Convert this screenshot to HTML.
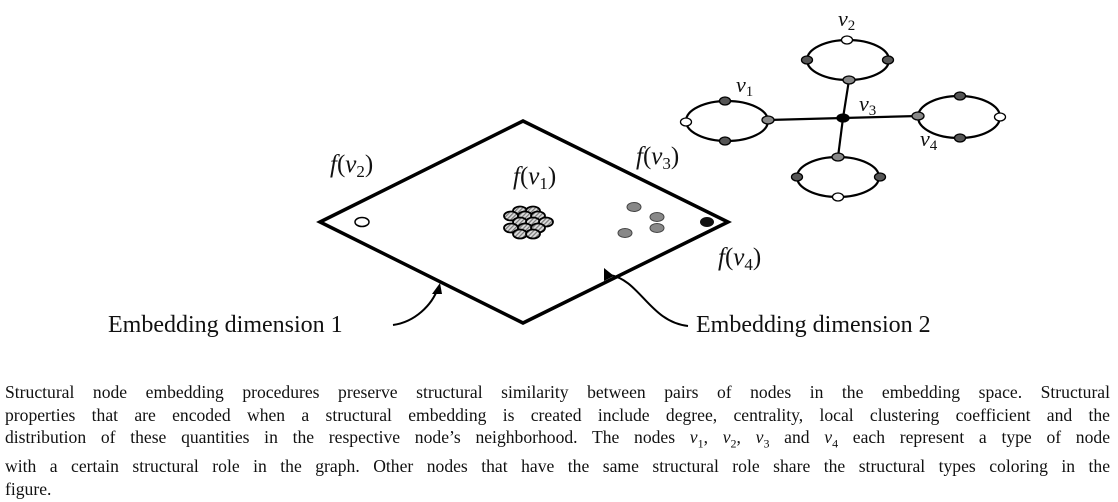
<!DOCTYPE html>
<html><head><meta charset="utf-8"><style>
html,body{margin:0;padding:0;background:#fff;}
body{width:1118px;height:502px;position:relative;overflow:hidden;font-family:"Liberation Serif",serif;}
svg{position:absolute;left:0;top:0;}
.cap{position:absolute;left:5px;width:1105px;font-size:17.6px;line-height:22.5px;top:381px;color:#111;}
.cap div{text-align:justify;text-align-last:justify;white-space:nowrap;}
.cap div.l{text-align-last:left;}
</style></head><body>
<svg width="1118" height="380" viewBox="0 0 1118 380">
<defs><pattern id="h" width="3" height="3" patternUnits="userSpaceOnUse" patternTransform="rotate(45)"><rect width="3" height="3" fill="#ddd"/><rect width="1.2" height="3" fill="#777"/></pattern></defs>
<polygon points="320,222 523,121 728,222 523,323" fill="none" stroke="#000" stroke-width="3.5" stroke-linejoin="miter"/>
<ellipse cx="362" cy="222" rx="7" ry="4.5" fill="#fff" stroke="#000" stroke-width="1.5"/>
<g fill="url(#h)" stroke="#000" stroke-width="1.8">
<ellipse cx="520" cy="211" rx="7" ry="4.5"/><ellipse cx="533" cy="211" rx="7" ry="4.5"/>
<ellipse cx="511" cy="216" rx="7" ry="4.5"/><ellipse cx="525" cy="216" rx="7" ry="4.5"/><ellipse cx="538" cy="216" rx="7" ry="4.5"/>
<ellipse cx="520" cy="222" rx="7" ry="4.5"/><ellipse cx="533" cy="222" rx="7" ry="4.5"/><ellipse cx="546" cy="222" rx="7" ry="4.5"/>
<ellipse cx="511" cy="228" rx="7" ry="4.5"/><ellipse cx="525" cy="228" rx="7" ry="4.5"/><ellipse cx="538" cy="228" rx="7" ry="4.5"/>
<ellipse cx="520" cy="234" rx="7" ry="4.5"/><ellipse cx="533" cy="234" rx="7" ry="4.5"/>
</g>
<g fill="#888" stroke="#444" stroke-width="1">
<ellipse cx="634" cy="207" rx="7" ry="4.5"/><ellipse cx="657" cy="217" rx="7" ry="4.5"/><ellipse cx="657" cy="228" rx="7" ry="4.5"/><ellipse cx="625" cy="233" rx="7" ry="4.5"/>
</g>
<ellipse cx="707" cy="222" rx="7" ry="5" fill="#111"/>
<g font-family="Liberation Serif,serif" font-size="25" fill="#111">
<text x="330" y="172"><tspan font-style="italic">f</tspan>(<tspan font-style="italic">v</tspan><tspan font-size="17" dy="5">2</tspan><tspan dy="-5">)</tspan></text>
<text x="513" y="184"><tspan font-style="italic">f</tspan>(<tspan font-style="italic">v</tspan><tspan font-size="17" dy="5">1</tspan><tspan dy="-5">)</tspan></text>
<text x="636" y="164"><tspan font-style="italic">f</tspan>(<tspan font-style="italic">v</tspan><tspan font-size="17" dy="5">3</tspan><tspan dy="-5">)</tspan></text>
<text x="718" y="265"><tspan font-style="italic">f</tspan>(<tspan font-style="italic">v</tspan><tspan font-size="17" dy="5">4</tspan><tspan dy="-5">)</tspan></text>
<text x="108" y="332" font-size="24">Embedding dimension 1</text>
<text x="696" y="332" font-size="24">Embedding dimension 2</text>
<text x="736" y="92" font-style="italic" font-size="22">v<tspan font-size="15" dy="4" font-style="normal">1</tspan></text>
<text x="838" y="26" font-style="italic" font-size="22">v<tspan font-size="15" dy="4" font-style="normal">2</tspan></text>
<text x="859" y="111" font-style="italic" font-size="22">v<tspan font-size="15" dy="4" font-style="normal">3</tspan></text>
<text x="920" y="146" font-style="italic" font-size="22">v<tspan font-size="15" dy="4" font-style="normal">4</tspan></text>
</g>
<path d="M393,325 C415,322 432,305 438,288" fill="none" stroke="#000" stroke-width="2"/>
<polygon points="440,283 432,294 442,294" fill="#000"/>
<path d="M688,326 C650,322 640,280 610,275" fill="none" stroke="#000" stroke-width="2"/>
<polygon points="604,268 604,281 614,276" fill="#000"/>
<g stroke="#000" stroke-width="2.2" fill="none">
<line x1="768" y1="120" x2="843" y2="118"/><line x1="843" y1="118" x2="918" y2="116"/>
<line x1="849" y1="80" x2="843" y2="118"/><line x1="843" y1="118" x2="838" y2="157"/>
<ellipse cx="727" cy="121" rx="41" ry="20"/>
<ellipse cx="848" cy="60" rx="41" ry="20"/>
<ellipse cx="959" cy="117" rx="41" ry="21"/>
<ellipse cx="838" cy="177" rx="41" ry="20"/>
</g>
<g stroke="#000" stroke-width="1.3">
<ellipse cx="686" cy="122" rx="5.5" ry="4" fill="#fff"/><ellipse cx="725" cy="101" rx="5.5" ry="4" fill="#555"/><ellipse cx="725" cy="141" rx="5.5" ry="4" fill="#555"/><ellipse cx="768" cy="120" rx="6" ry="4" fill="#888"/>
<ellipse cx="847" cy="40" rx="5.5" ry="4" fill="#fff"/><ellipse cx="807" cy="60" rx="5.5" ry="4" fill="#555"/><ellipse cx="888" cy="60" rx="5.5" ry="4" fill="#555"/><ellipse cx="849" cy="80" rx="6" ry="4" fill="#888"/>
<ellipse cx="1000" cy="117" rx="5.5" ry="4" fill="#fff"/><ellipse cx="960" cy="96" rx="5.5" ry="4" fill="#555"/><ellipse cx="960" cy="138" rx="5.5" ry="4" fill="#555"/><ellipse cx="918" cy="116" rx="6" ry="4" fill="#888"/>
<ellipse cx="838" cy="197" rx="5.5" ry="4" fill="#fff"/><ellipse cx="797" cy="177" rx="5.5" ry="4" fill="#555"/><ellipse cx="880" cy="177" rx="5.5" ry="4" fill="#555"/><ellipse cx="838" cy="157" rx="6" ry="4" fill="#888"/>
<ellipse cx="843" cy="118" rx="6" ry="4" fill="#000"/>
</g>
</svg>
<div class="cap">
<div>Structural node embedding procedures preserve structural similarity between pairs of nodes in the embedding space. Structural</div>
<div>properties that are encoded when a structural embedding is created include degree, centrality, local clustering coefficient and the</div>
<div>distribution of these quantities in the respective node’s neighborhood. The nodes <i>v</i><sub style="font-size:12px">1</sub>, <i>v</i><sub style="font-size:12px">2</sub>, <i>v</i><sub style="font-size:12px">3</sub> and <i>v</i><sub style="font-size:12px">4</sub> each represent a type of node</div>
<div>with a certain structural role in the graph. Other nodes that have the same structural role share the structural types coloring in the</div>
<div class="l">figure.</div>
</div>
</body></html>
